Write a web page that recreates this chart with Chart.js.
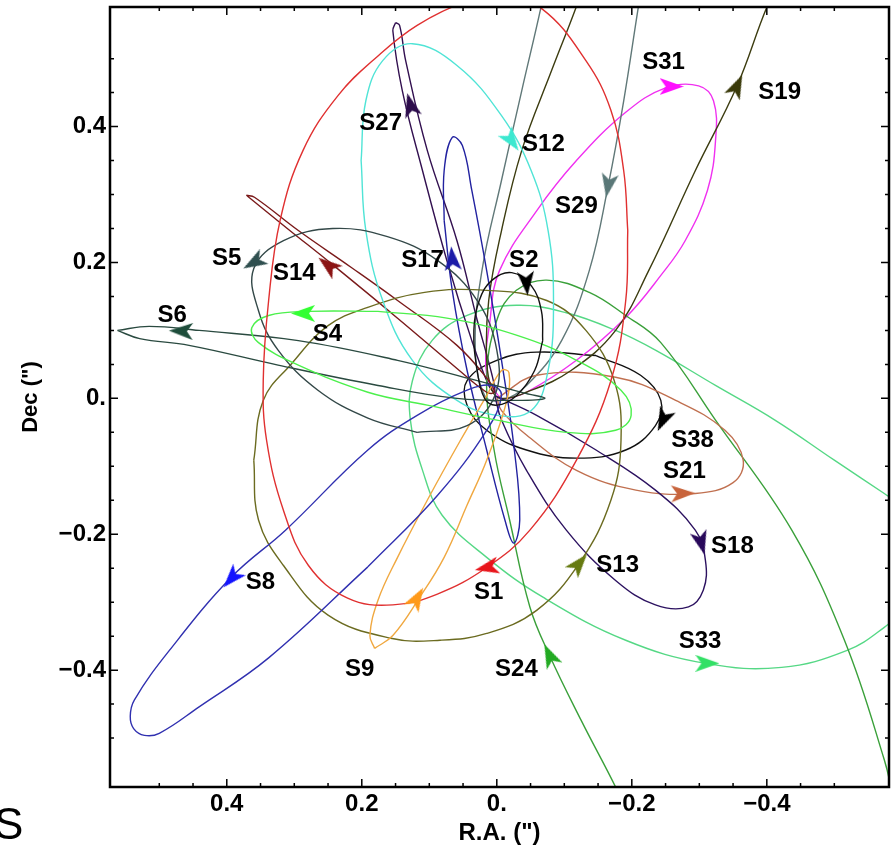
<!DOCTYPE html>
<html>
<head>
<meta charset="utf-8">
<script src="https://cdn.jsdelivr.net/npm/chart.js@4.4.1/dist/chart.umd.min.js"></script>
<style>
  html, body { margin: 0; padding: 0; background: #fff; }
</style>
</head>
<body>
<canvas id="orbits" width="892" height="845"></canvas>
<script>
// star names, in the order of the tracks below
const starNames = ['S1', 'S2', 'S4', 'S5', 'S6', 'S8', 'S9', 'S12', 'S13', 'S14',
  'S17', 'S18', 'S19', 'S21', 'S24', 'S27', 'S29', 'S31', 'S33', 'S38'];

// projected orbits, [R.A., Dec] in arcsec
const s1 = [[-0.194, 0.247], [-0.191, 0.144], [-0.169, 0.026], [-0.118, -0.091], [-0.049, -0.194], [0.015, -0.249], [0.088, -0.288], [0.154, -0.304], [0.221, -0.294], [0.279, -0.246], [0.316, -0.165], [0.341, -0.062], [0.346, 0.026], [0.338, 0.144], [0.321, 0.262], [0.287, 0.365], [0.235, 0.446], [0.176, 0.504], [0.118, 0.549], [0.044, 0.585], [0.0, 0.597], [-0.066, 0.574], [-0.132, 0.497], [-0.169, 0.424], [-0.188, 0.335], [-0.194, 0.247]];
const s2 = [[-0.068, 0.085], [-0.056, 0.041], [-0.029, 0.004], [0.0, -0.010], [0.018, 0.0], [0.029, 0.041], [0.034, 0.100], [0.026, 0.144], [0.007, 0.174], [-0.022, 0.185], [-0.051, 0.166], [-0.066, 0.129], [-0.068, 0.085]];
const s4 = [[0.176, 0.128], [0.074, 0.118], [-0.029, 0.093], [-0.118, 0.056], [-0.184, 0.012], [-0.199, -0.025], [-0.176, -0.047], [-0.103, -0.050], [0.0, -0.032], [0.103, -0.010], [0.191, 0.009], [0.294, 0.049], [0.353, 0.082], [0.363, 0.104], [0.338, 0.122], [0.279, 0.128], [0.176, 0.128]];
const s5 = [[0.118, -0.050], [0.191, -0.029], [0.265, 0.012], [0.324, 0.071], [0.353, 0.129], [0.360, 0.191], [0.316, 0.232], [0.243, 0.250], [0.162, 0.238], [0.088, 0.203], [0.029, 0.144], [0.0, 0.071], [0.003, 0.004], [0.044, -0.040], [0.118, -0.050]];
const s6 = [[0.562, 0.100], [0.515, 0.106], [0.441, 0.100], [0.294, 0.085], [0.147, 0.056], [0.029, 0.026], [-0.044, 0.007], [-0.071, 0.0], [-0.029, -0.003], [0.059, 0.0], [0.176, 0.019], [0.324, 0.049], [0.456, 0.078], [0.529, 0.088], [0.562, 0.100]];
const s8 = [[0.191, -0.248], [0.088, -0.143], [0.015, -0.047], [-0.007, 0.004], [0.007, 0.019], [0.044, 0.012], [0.118, -0.025], [0.191, -0.076], [0.313, -0.194], [0.393, -0.263], [0.485, -0.371], [0.537, -0.444], [0.543, -0.468], [0.538, -0.486], [0.522, -0.496], [0.500, -0.493], [0.441, -0.454], [0.338, -0.382], [0.191, -0.248]];
const s9 = [[0.181, -0.368], [0.188, -0.349], [0.176, -0.297], [0.147, -0.234], [0.103, -0.150], [0.054, -0.062], [0.015, 0.004], [-0.007, 0.041], [-0.018, 0.038], [-0.015, -0.003], [0.015, -0.091], [0.044, -0.157], [0.078, -0.234], [0.115, -0.294], [0.154, -0.349], [0.181, -0.368]];
const s12 = [[0.201, 0.350], [0.194, 0.247], [0.169, 0.144], [0.125, 0.056], [0.059, -0.003], [0.0, -0.025], [-0.051, -0.018], [-0.076, 0.041], [-0.084, 0.144], [-0.076, 0.247], [-0.051, 0.335], [-0.007, 0.416], [0.059, 0.490], [0.125, 0.522], [0.169, 0.497], [0.194, 0.438], [0.201, 0.350]];
const s13 = [[0.360, -0.091], [0.346, -0.003], [0.304, 0.051], [0.250, 0.107], [0.191, 0.134], [0.107, 0.156], [0.015, 0.159], [-0.074, 0.144], [-0.132, 0.100], [-0.174, 0.026], [-0.184, -0.062], [-0.169, -0.150], [-0.122, -0.243], [-0.059, -0.312], [0.015, -0.346], [0.084, -0.356], [0.157, -0.353], [0.250, -0.319], [0.316, -0.246], [0.353, -0.179], [0.360, -0.091]];
const s14 = [[0.371, 0.299], [0.309, 0.249], [0.246, 0.199], [0.147, 0.118], [0.059, 0.044], [0.015, 0.009], [0.004, 0.009], [0.012, 0.026], [0.059, 0.078], [0.147, 0.144], [0.216, 0.193], [0.294, 0.247], [0.359, 0.296], [0.371, 0.299]];
const s17 = [[0.078, 0.262], [0.066, 0.159], [0.044, 0.041], [0.015, -0.076], [-0.012, -0.179], [-0.025, -0.213], [-0.034, -0.179], [-0.026, -0.076], [-0.007, 0.056], [0.015, 0.188], [0.037, 0.306], [0.051, 0.372], [0.066, 0.384], [0.078, 0.335], [0.078, 0.262]];
const s18 = [[0.003, 0.004], [-0.059, -0.025], [-0.147, -0.076], [-0.235, -0.135], [-0.294, -0.194], [-0.309, -0.238], [-0.306, -0.282], [-0.284, -0.307], [-0.235, -0.304], [-0.176, -0.268], [-0.103, -0.194], [-0.044, -0.106], [-0.007, -0.032], [0.003, 0.004]];
const s19 = [[-0.434, 0.644], [-0.401, 0.578], [-0.356, 0.460], [-0.294, 0.335], [-0.225, 0.188], [-0.176, 0.100], [-0.110, 0.041], [-0.044, 0.009], [-0.007, 0.0], [0.007, 0.012], [0.015, 0.056], [0.012, 0.144], [-0.007, 0.247], [-0.037, 0.365], [-0.081, 0.482], [-0.121, 0.585], [-0.132, 0.622]];
const s21 = [[0.0, 0.0], [-0.059, 0.034], [-0.176, 0.031], [-0.265, -0.003], [-0.338, -0.047], [-0.365, -0.091], [-0.350, -0.124], [-0.294, -0.140], [-0.206, -0.135], [-0.118, -0.106], [-0.044, -0.054], [-0.007, -0.018], [0.0, 0.0]];
const s24 = [[-0.191, -0.606], [-0.176, -0.572], [-0.125, -0.474], [-0.078, -0.378], [-0.049, -0.307], [-0.019, -0.179], [0.004, -0.076], [0.015, 0.026], [0.0, 0.115], [-0.029, 0.159], [-0.074, 0.174], [-0.137, 0.156], [-0.191, 0.122], [-0.243, 0.082], [-0.324, -0.032], [-0.437, -0.194], [-0.515, -0.356], [-0.574, -0.532], [-0.588, -0.591]];
const s27 = [[0.150, 0.553], [0.154, 0.541], [0.140, 0.453], [0.110, 0.335], [0.074, 0.203], [0.037, 0.085], [0.012, 0.019], [0.003, 0.009], [0.007, 0.034], [0.029, 0.115], [0.059, 0.232], [0.103, 0.365], [0.135, 0.497], [0.144, 0.549], [0.150, 0.553]];
const s29 = [[-0.221, 0.644], [-0.210, 0.578], [-0.188, 0.438], [-0.165, 0.313], [-0.137, 0.188], [-0.096, 0.085], [-0.044, 0.019], [-0.007, -0.003], [0.018, 0.004], [0.032, 0.078], [0.022, 0.188], [-0.007, 0.321], [-0.037, 0.453], [-0.066, 0.578], [-0.076, 0.629]];
const s31 = [[-0.007, -0.003], [0.015, 0.034], [0.010, 0.115], [-0.004, 0.188], [-0.059, 0.276], [-0.118, 0.350], [-0.191, 0.421], [-0.250, 0.457], [-0.299, 0.460], [-0.321, 0.438], [-0.324, 0.379], [-0.312, 0.306], [-0.279, 0.232], [-0.243, 0.181], [-0.191, 0.119], [-0.118, 0.056], [-0.044, 0.009], [-0.007, -0.003]];
const s33 = [[-0.603, -0.160], [-0.574, -0.140], [-0.500, -0.091], [-0.412, -0.032], [-0.324, 0.019], [-0.235, 0.071], [-0.176, 0.100], [-0.103, 0.126], [-0.029, 0.137], [0.044, 0.122], [0.096, 0.085], [0.125, 0.026], [0.128, -0.032], [0.110, -0.106], [0.081, -0.172], [0.015, -0.234], [-0.069, -0.293], [-0.191, -0.356], [-0.309, -0.390], [-0.422, -0.396], [-0.519, -0.371], [-0.574, -0.337], [-0.610, -0.304]];
const s38 = [[-0.147, 0.063], [-0.213, 0.034], [-0.243, -0.003], [-0.235, -0.040], [-0.191, -0.076], [-0.118, -0.088], [-0.044, -0.076], [0.015, -0.047], [0.044, -0.010], [0.044, 0.026], [0.0, 0.056], [-0.059, 0.068], [-0.147, 0.063]];

const orbitTracks = [s1, s2, s4, s5, s6, s8, s9, s12, s13, s14, s17, s18, s19, s21, s24, s27, s29, s31, s33, s38];

// direction arrows: position on the orbit and heading (degrees, clockwise from up)
const arrowX = [0.015, -0.044, 0.287, 0.360, 0.468, 0.393, 0.118, -0.022, -0.122, 0.250, 0.066, -0.303, -0.356, -0.276, -0.078, 0.128, -0.165, -0.259, -0.312, -0.246];
const arrowY = [-0.249, 0.169, 0.125, 0.200, 0.099, -0.265, -0.294, 0.379, -0.243, 0.196, 0.206, -0.213, 0.460, -0.140, -0.378, 0.432, 0.313, 0.459, -0.390, -0.032];
const arrowHeading = [258, 175, 270, 240, 272, 222, 30, 145, 40, 308, 355, 165, 25, 88, 335, 345, 190, 90, 90, 205];

// name label anchors
const labelX = [0.012, -0.040, 0.251, 0.400, 0.481, 0.350, 0.203, -0.069, -0.179, 0.300, 0.110, -0.349, -0.419, -0.278, -0.029, 0.172, -0.118, -0.247, -0.301, -0.290];
const labelY = [-0.285, 0.203, 0.094, 0.206, 0.122, -0.271, -0.399, 0.374, -0.246, 0.184, 0.203, -0.218, 0.451, -0.107, -0.399, 0.404, 0.282, 0.494, -0.357, -0.062];

const tickValues = [-0.4, -0.2, 0, 0.2, 0.4];
const tickLabels = ['\u22120.4', '\u22120.2', '0.', '0.2', '0.4'];

const lineColors = ['#e03030', '#111111', '#4cf04c', '#334848', '#2a4a40', '#3030b0', '#f0a840', '#50e4d6', '#6b6b20', '#7a1a1a',
  '#2222a0', '#2c1260', '#3c3c10', '#c07050', '#3aa03a', '#321050', '#607878', '#f030f0', '#55d885', '#111111'];
const arrowColors = ['#e8151b', '#000000', '#33ff33', '#2f4f4f', '#1e4d3b', '#1414ff', '#ff9a1a', '#3ce8d0', '#667a10', '#8b1414',
  '#1c1ca8', '#28085a', '#3a3a0a', '#c8643c', '#22aa22', '#2c0c4c', '#5a7878', '#ff10ff', '#33e066', '#000000'];

const FONT_FAMILY = '"Liberation Sans", Arial, sans-serif';
const LABEL_FONT = 'bold 24px ' + FONT_FAMILY;

function arrowHead(color) {
  const c = document.createElement('canvas');
  c.width = 17;
  c.height = 24;
  const g = c.getContext('2d');
  g.fillStyle = color;
  g.beginPath();
  g.moveTo(8.5, 0);
  g.lineTo(17, 24);
  g.lineTo(8.5, 18);
  g.lineTo(0, 24);
  g.closePath();
  g.fill();
  return c;
}

function tickText(value) {
  const i = tickValues.findIndex((t) => Math.abs(t - value) < 1e-6);
  return i >= 0 ? tickLabels[i] : '';
}

const orbitSets = orbitTracks.map((track, i) => ({
  label: starNames[i],
  data: track.map(([x, y]) => ({ x, y })),
  showLine: true,
  borderColor: lineColors[i],
  borderWidth: 1.4,
  pointRadius: 0,
  tension: 0.4,
  fill: false,
}));

const arrowSet = {
  label: 'arrows',
  data: arrowX.map((x, i) => ({ x, y: arrowY[i] })),
  showLine: false,
  pointStyle: arrowColors.map(arrowHead),
  pointRotation: arrowHeading,
  pointRadius: 12,
};

const frameAndLabels = {
  id: 'frameAndLabels',
  afterDatasetsDraw(chart) {
    const { ctx, chartArea: a, scales: { x, y } } = chart;
    ctx.save();
    ctx.strokeStyle = '#000';
    ctx.lineWidth = 1.5;
    ctx.beginPath();
    x.ticks.forEach((t) => {
      if (Math.abs(t.value) > 0.56) return;
      const px = x.getPixelForValue(t.value);
      const len = tickText(t.value) ? 8 : 4;
      ctx.moveTo(px, a.bottom); ctx.lineTo(px, a.bottom - len);
      ctx.moveTo(px, a.top); ctx.lineTo(px, a.top + len);
    });
    y.ticks.forEach((t) => {
      if (Math.abs(t.value) > 0.56) return;
      const py = y.getPixelForValue(t.value);
      const len = tickText(t.value) ? 8 : 4;
      ctx.moveTo(a.left, py); ctx.lineTo(a.left + len, py);
      ctx.moveTo(a.right, py); ctx.lineTo(a.right - len, py);
    });
    ctx.stroke();
    ctx.lineWidth = 2.5;
    ctx.strokeRect(a.left, a.top, a.right - a.left, a.bottom - a.top);

    ctx.fillStyle = '#000';
    ctx.font = LABEL_FONT;
    ctx.textAlign = 'center';
    ctx.textBaseline = 'middle';
    starNames.forEach((name, i) => {
      ctx.fillText(name, x.getPixelForValue(labelX[i]), y.getPixelForValue(labelY[i]));
    });

    // stray letter cut off at the lower left of the original figure
    ctx.font = '44px ' + FONT_FAMILY;
    ctx.textAlign = 'left';
    ctx.textBaseline = 'alphabetic';
    ctx.fillText('S', -6, 839);
    ctx.restore();
  },
};

new Chart(document.getElementById('orbits'), {
  type: 'scatter',
  data: { datasets: [arrowSet, ...orbitSets] },
  options: {
    responsive: false,
    animation: false,
    events: [],
    layout: { autoPadding: false, padding: { top: 7, right: 3, left: 0, bottom: 0 } },
    plugins: { legend: { display: false }, tooltip: { enabled: false } },
    scales: {
      x: {
        type: 'linear',
        reverse: true,
        min: -0.581,
        max: 0.573,
        afterFit: (scale) => {
          scale.height = 58;
          scale.paddingLeft = 0;
          scale.paddingRight = 0;
        },
        grid: { display: false, drawTicks: false },
        border: { display: false },
        ticks: {
          stepSize: 0.05,
          autoSkip: false,
          maxRotation: 0,
          padding: 3,
          color: '#000',
          font: { family: FONT_FAMILY, size: 24, weight: 'bold' },
          callback: (v) => tickText(v),
        },
        title: {
          display: true,
          text: 'R.A. (")',
          color: '#000',
          font: { family: FONT_FAMILY, size: 24, weight: 'bold', lineHeight: 1 },
          padding: { top: 0, bottom: 0 },
        },
      },
      y: {
        type: 'linear',
        min: -0.572,
        max: 0.576,
        afterFit: (scale) => {
          scale.width = 110;
          scale.paddingTop = 0;
          scale.paddingBottom = 0;
        },
        grid: { display: false, drawTicks: false },
        border: { display: false },
        ticks: {
          stepSize: 0.05,
          autoSkip: false,
          padding: 4,
          color: '#000',
          font: { family: FONT_FAMILY, size: 24, weight: 'bold' },
          callback: (v) => tickText(v),
        },
        title: {
          display: true,
          text: 'Dec (")',
          color: '#000',
          font: { family: FONT_FAMILY, size: 22, weight: 'bold', lineHeight: 1 },
          padding: { top: 20, bottom: 0 },
        },
      },
    },
  },
  plugins: [frameAndLabels],
});
</script>
</body>
</html>
